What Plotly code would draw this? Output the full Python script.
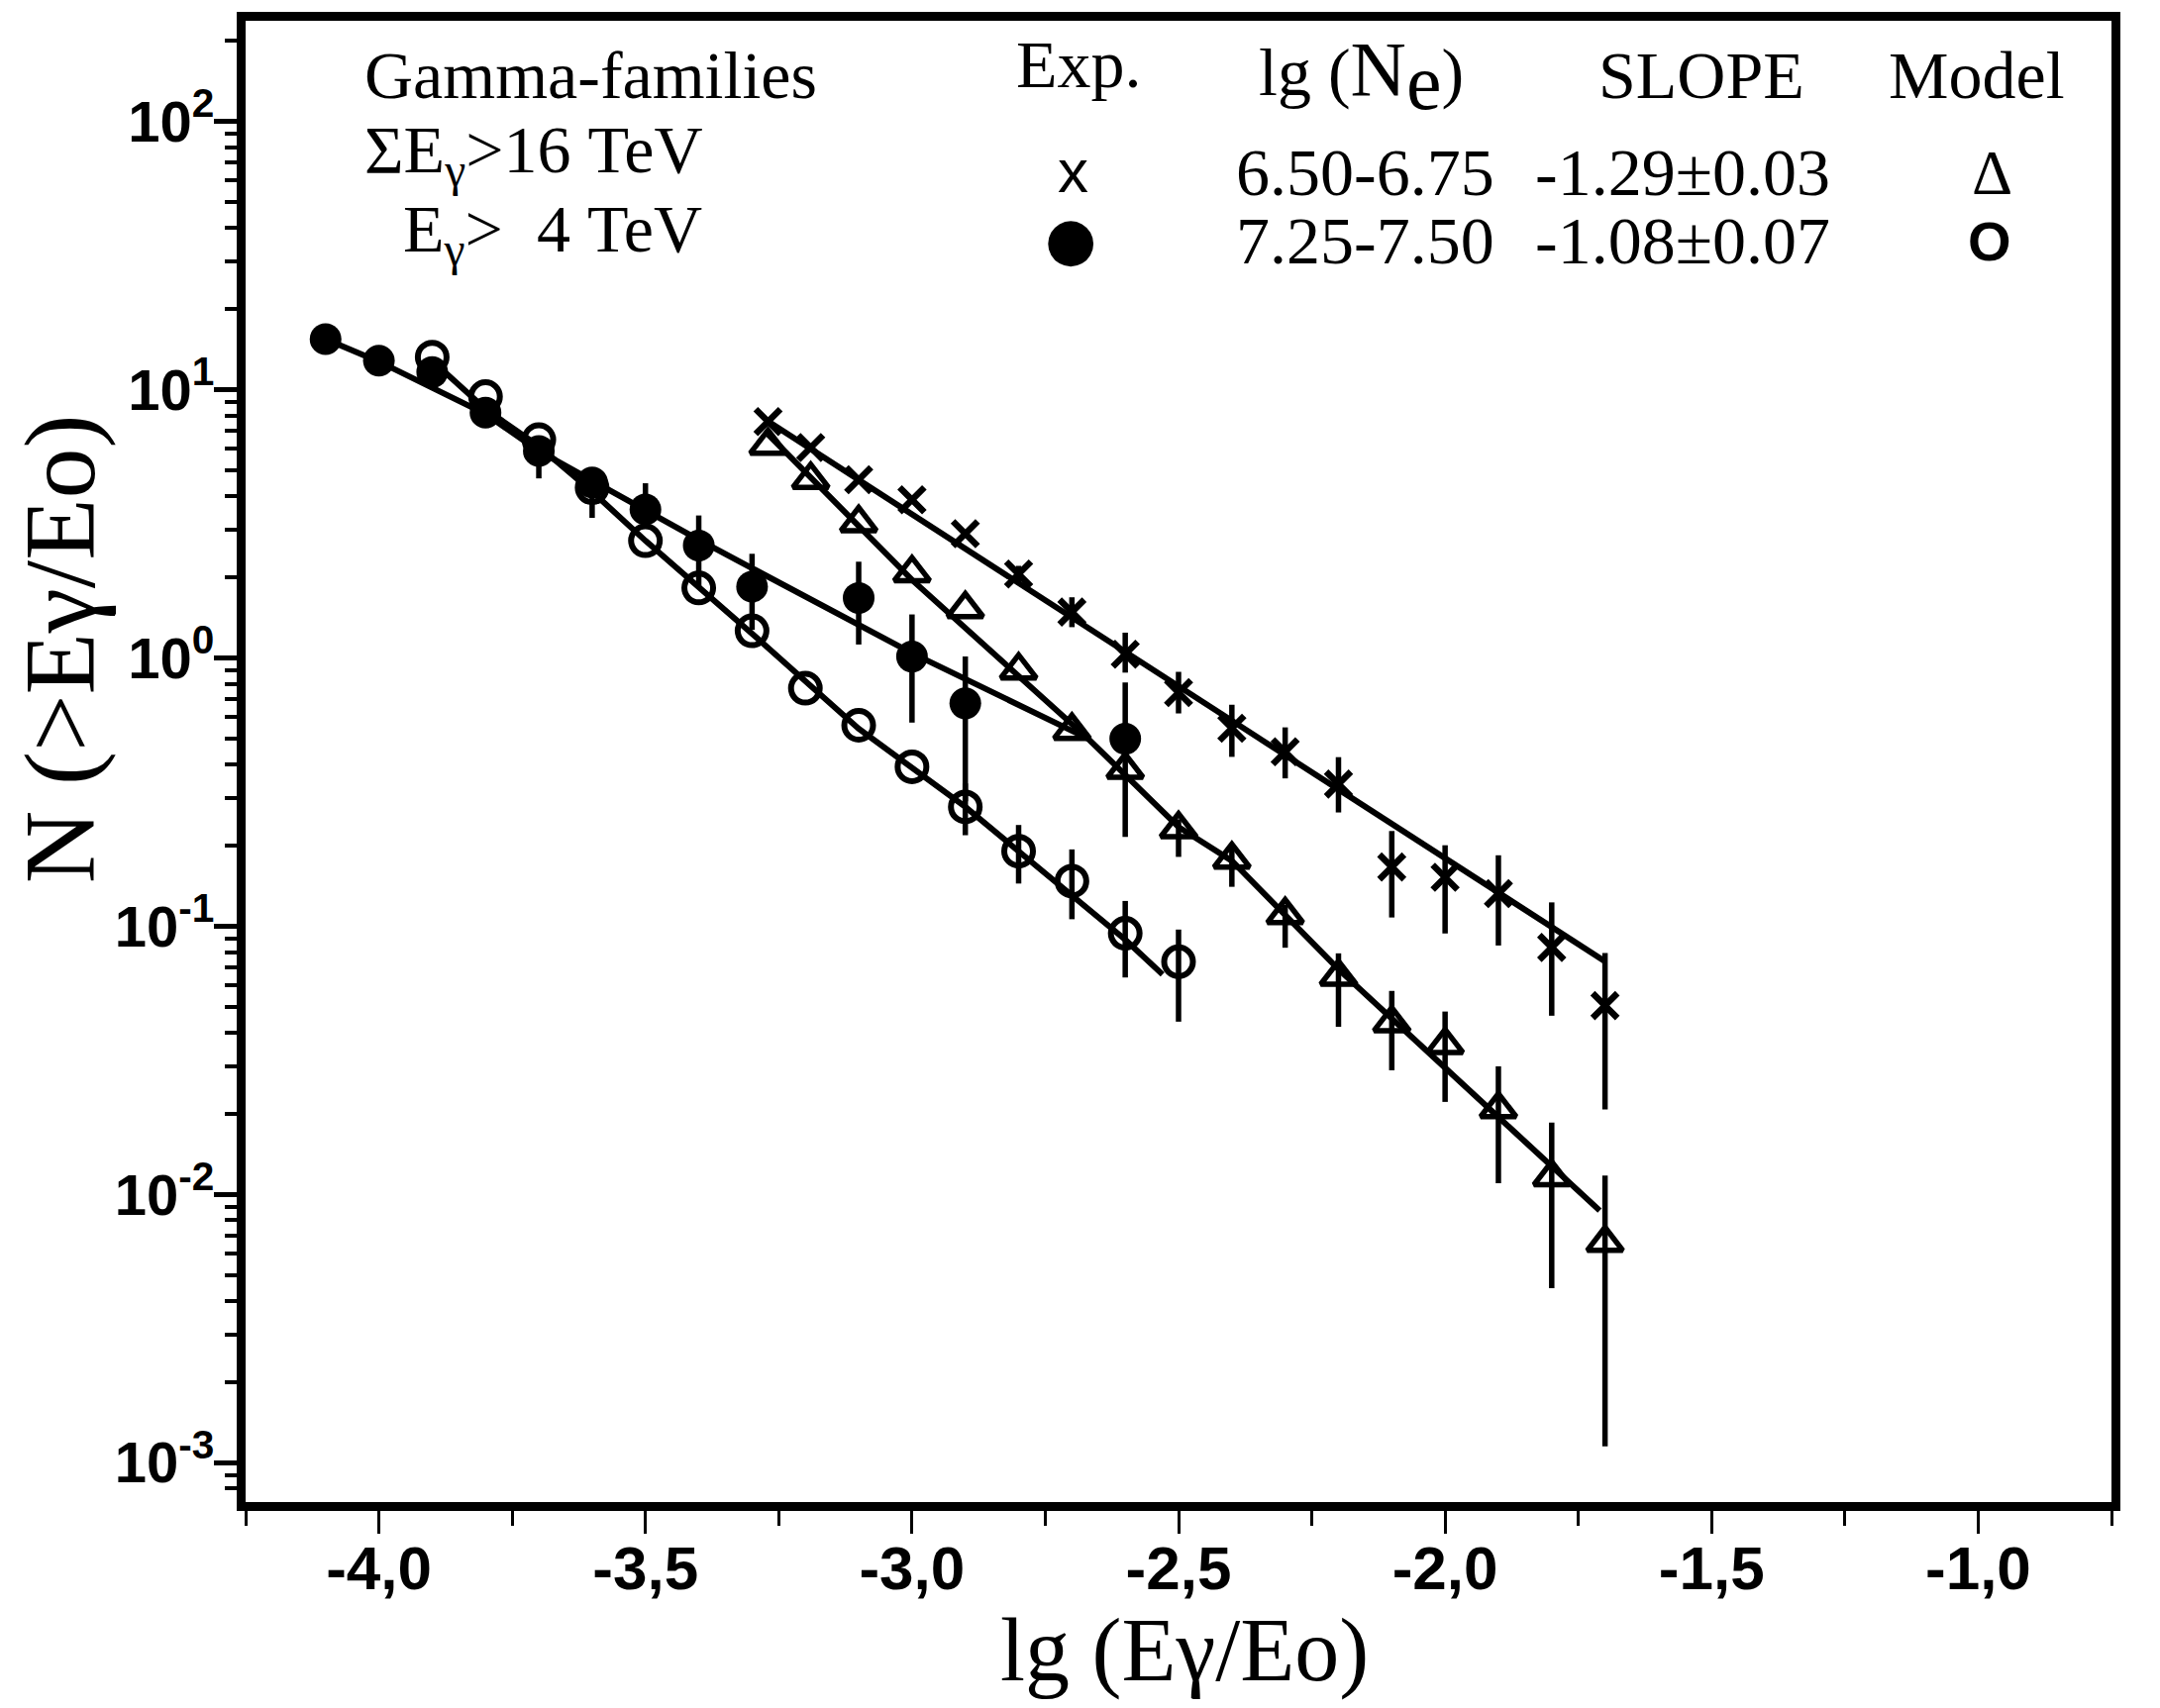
import numpy as np
import plotly.graph_objects as go

# ---------------- data ----------------
# Exp., lg(Ne) 7.25-7.50 (filled circles)
filled_x = [-4.1, -4.0, -3.9, -3.8, -3.7, -3.6, -3.5, -3.4, -3.3, -3.1, -3.0, -2.9, -2.6]
filled_y = [15.4, 12.8, 11.6, 8.2, 5.9, 4.5, 3.57, 2.62, 1.84, 1.67, 1.01, 0.676, 0.499]
filled_hi = [15.4, 12.8, 11.6, 8.2, 6.5, 5.0, 4.47, 3.39, 2.44, 2.28, 1.45, 1.01, 0.809]
filled_lo = [15.4, 12.8, 11.6, 8.2, 4.66, 3.32, 3.2, 1.85, 1.27, 1.12, 0.573, 0.292, 0.215]

# Model, lg(Ne) 7.25-7.50 (open circles)
open_x = [-3.9, -3.8, -3.7, -3.6, -3.5, -3.4, -3.3, -3.2, -3.1, -3.0, -2.9, -2.8, -2.7, -2.6, -2.5]
open_y = [13.2, 9.4, 6.5, 4.3, 2.73, 1.82, 1.26, 0.77, 0.56, 0.392, 0.278, 0.19, 0.147, 0.094, 0.0736]
open_hi = [13.2, 9.4, 6.5, 4.3, 2.73, 1.82, 1.26, 0.77, 0.56, 0.392, 0.34, 0.238, 0.193, 0.124, 0.097]
open_lo = [13.2, 9.4, 6.5, 4.3, 2.73, 1.82, 1.26, 0.77, 0.56, 0.392, 0.218, 0.144, 0.106, 0.0643, 0.044]

# Model, lg(Ne) 6.50-6.75 (triangles)
tri_x = [-3.27, -3.19, -3.1, -3.0, -2.9, -2.8, -2.7, -2.6, -2.5, -2.4, -2.3, -2.2, -2.1, -2.0, -1.9, -1.8, -1.7]
tri_y = [6.18, 4.61, 3.18, 2.07, 1.52, 0.898, 0.535, 0.383, 0.230, 0.177, 0.110, 0.0648, 0.0435, 0.0361, 0.0208, 0.0116, 0.0066]
tri_hi = [6.18, 4.61, 3.18, 2.07, 1.52, 0.898, 0.535, 0.383, 0.25, 0.195, 0.12, 0.0791, 0.0573, 0.048, 0.030, 0.0185, 0.01175]
tri_lo = [6.18, 4.61, 3.18, 2.07, 1.52, 0.898, 0.535, 0.383, 0.181, 0.140, 0.083, 0.0421, 0.029, 0.0221, 0.0110, 0.00447, 0.00115]

# Exp., lg(Ne) 6.50-6.75 (crosses)
cross_x = [-3.27, -3.19, -3.1, -3.0, -2.9, -2.8, -2.7, -2.6, -2.5, -2.4, -2.3, -2.2, -2.1, -2.0, -1.9, -1.8, -1.7]
cross_y = [7.59, 6.07, 4.61, 3.88, 2.90, 2.05, 1.48, 1.03, 0.741, 0.546, 0.446, 0.338, 0.166, 0.152, 0.132, 0.0832, 0.0505]
cross_hi = [7.59, 6.07, 4.61, 3.88, 2.90, 2.2, 1.68, 1.24, 0.886, 0.668, 0.55, 0.426, 0.226, 0.200, 0.1835, 0.1225, 0.0793]
cross_lo = [7.59, 6.07, 4.61, 3.88, 2.90, 1.9, 1.30, 0.88, 0.62, 0.427, 0.355, 0.265, 0.1076, 0.0938, 0.0846, 0.0463, 0.0207]

# fitted lines
filled_fit_x = [-4.1, -4.0, -3.8, -3.7, -3.4, -3.0, -2.67]
filled_fit_y = [15.4, 12.7, 8.1, 5.9, 2.75, 1.04, 0.50]
open_fit_x = [-3.9, -3.8, -3.7, -3.6, -3.5, -3.3, -3.1, -2.9, -2.8, -2.6, -2.53]
open_fit_y = [12.8, 8.45, 6.14, 4.16, 2.73, 1.23, 0.544, 0.278, 0.19, 0.089, 0.066]
tri_fit_x = [-3.27, -3.0, -2.67, -2.5, -2.4, -2.2, -1.9, -1.71]
tri_fit_y = [6.8, 1.95, 0.50, 0.234, 0.175, 0.069, 0.0194, 0.0087]
cross_fit_x = [-3.27, -1.70]
cross_fit_y = [7.6, 0.0738]

x_tick_vals = [-4.0, -3.5, -3.0, -2.5, -2.0, -1.5, -1.0]
x_tick_text = ["-4,0", "-3,5", "-3,0", "-2,5", "-2,0", "-1,5", "-1,0"]
y_tick_exps = [-3, -2, -1, 0, 1, 2]

# ---------------- figure ----------------
W, H = 2181, 1725
L, R, T, B = 248, 49, 12, 208
PW, PH = W - L - R, H - T - B


def px(X):
    return (X - L) / PW


def py(Y):
    return (H - B - Y) / PH


def err(y, hi, lo):
    y = np.array(y)
    return dict(type="data", symmetric=False, array=list(np.array(hi) - y),
                arrayminus=list(y - np.array(lo)), color="black", thickness=5.5, width=0)


fig = go.Figure()
LW = 6
for fx, fy in [(filled_fit_x, filled_fit_y), (open_fit_x, open_fit_y),
               (tri_fit_x, tri_fit_y), (cross_fit_x, cross_fit_y)]:
    fig.add_trace(go.Scatter(x=fx, y=fy, mode="lines", line=dict(color="black", width=LW),
                             showlegend=False, hoverinfo="skip"))

fig.add_trace(go.Scatter(x=open_x, y=open_y, mode="markers", name="Model 7.25-7.50",
                         marker=dict(symbol="circle-open", size=29, color="black", line=dict(width=6, color="black")),
                         error_y=err(open_y, open_hi, open_lo), showlegend=False))
fig.add_trace(go.Scatter(x=tri_x, y=tri_y, mode="markers", name="Model 6.50-6.75",
                         marker=dict(symbol="triangle-up-open", size=31, color="black", line=dict(width=5.5, color="black")),
                         error_y=err(tri_y, tri_hi, tri_lo), showlegend=False))
fig.add_trace(go.Scatter(x=cross_x, y=cross_y, mode="markers", name="Exp. 6.50-6.75",
                         marker=dict(symbol="x-thin", size=25, color="black", line=dict(width=6.5, color="black")),
                         error_y=err(cross_y, cross_hi, cross_lo), showlegend=False))
fig.add_trace(go.Scatter(x=filled_x, y=filled_y, mode="markers", name="Exp. 7.25-7.50",
                         marker=dict(symbol="circle", size=32, color="black", line=dict(width=0)),
                         error_y=err(filled_y, filled_hi, filled_lo), showlegend=False))

minor_x = list(np.arange(-4.25, -0.74, 0.5))
minor_y = [k * 10.0 ** n for n in range(-4, 3) for k in range(2, 10)]

TICKFONT = "Liberation Sans"

fig.update_layout(
    width=W, height=H, margin=dict(l=L, r=R, t=T, b=B),
    paper_bgcolor="white", plot_bgcolor="white", showlegend=False,
    xaxis=dict(range=[-4.25, -0.75], showgrid=False, zeroline=False,
               showline=True, linewidth=9, linecolor="black", mirror=True,
               ticks="outside", ticklen=23, tickwidth=3, tickcolor="black",
               tickmode="array", tickvals=x_tick_vals, ticktext=x_tick_text,
               ticklabelstandoff=-18,
               tickfont=dict(family=TICKFONT, size=62, color="black", weight="bold"),
               minor=dict(tickmode="array", tickvals=minor_x, ticks="outside", ticklen=15,
                          tickwidth=3, tickcolor="black", showgrid=False)),
    yaxis=dict(type="log", range=[-3.147, 2.374], showgrid=False, zeroline=False,
               showline=True, linewidth=9, linecolor="black", mirror=True,
               ticks="outside", ticklen=23, tickwidth=5, tickcolor="black",
               tickmode="array", tickvals=[10.0 ** e for e in y_tick_exps],
               ticktext=["10<sup>%d</sup>" % e for e in y_tick_exps],
               ticklabelstandoff=-12,
               tickfont=dict(family=TICKFONT, size=58, color="black", weight="bold"),
               minor=dict(tickmode="array", tickvals=minor_y, ticks="outside", ticklen=12,
                          tickwidth=3.5, tickcolor="black", showgrid=False)),
)

SERIF = "Liberation Serif"


def note(text, X, Yc, size, xanchor="left", family=SERIF, weight="normal", angle=0):
    fig.add_annotation(text=text, x=px(X), y=py(Yc), xref="paper", yref="paper",
                       xanchor=xanchor, yanchor="middle", showarrow=False, textangle=angle,
                       font=dict(family=family, size=size, color="black", weight=weight))


# axis titles
note("N (>Eγ/Eo)", 60, 650, 102, xanchor="center", angle=-90)
note("lg (Eγ/Eo)", 1196, 1668, 90, xanchor="center")

# left block
note("Gamma-families", 366, 67, 68)
note("ΣE<sub>γ</sub>>16 TeV", 366, 147, 68)
note("E<sub>γ</sub>>  4 TeV", 405, 228, 68)

# table header
note("Exp.", 1024, 56, 68)
note("lg (<span style='font-size:78px'>N</span><sub><span style='font-size:80px'>e</span></sub>)", 1269, 68, 68)
note("SLOPE", 1612, 67, 68)
note("Model", 1905, 67, 68)

# rows
note("x", 1083, 164, 62, xanchor="center", family="Liberation Sans")
note("6.50-6.75", 1246, 166, 68)
note("-1.29±0.03", 1548, 166, 68)
note("Δ", 2011, 166, 64, xanchor="center")
note("●", 1081, 233, 60, xanchor="center", family="DejaVu Sans")
note("7.25-7.50", 1246, 235, 68)
note("-1.08±0.07", 1548, 235, 68)
note("O", 2009, 236, 56, xanchor="center", family="Liberation Sans", weight="bold")

fig.write_html("out.html")
